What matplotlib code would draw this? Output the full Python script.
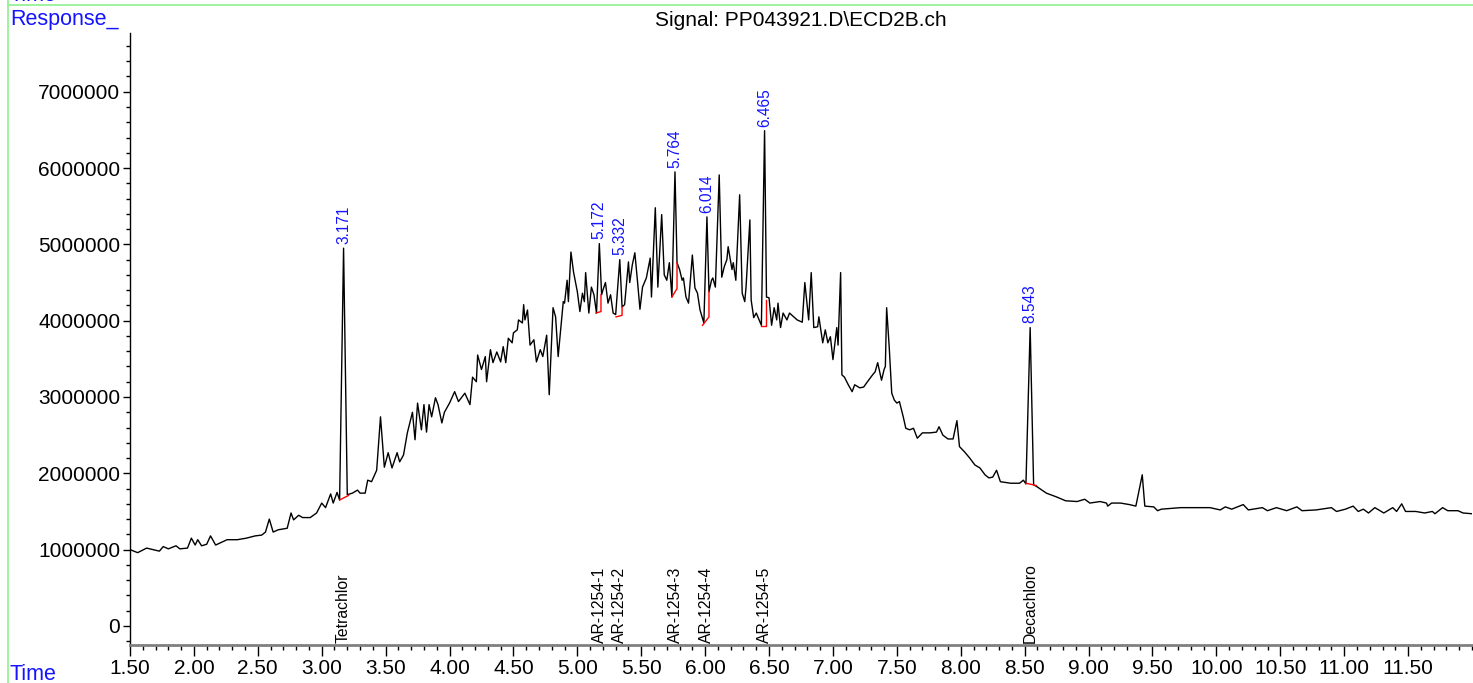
import matplotlib

matplotlib.use("Agg")
import matplotlib.pyplot as plt
import numpy as np
from matplotlib.lines import Line2D
from matplotlib.ticker import FixedLocator, MultipleLocator

plt.rcParams["font.family"] = ["Liberation Sans", "DejaVu Sans"]

# cromatograma: tiempo (min) y respuesta (millones)
times = [
    1.50, 1.56, 1.63, 1.73, 1.76, 1.80, 1.86, 1.89, 1.95, 1.98, 2.01, 2.03, 2.06, 2.10, 2.13, 2.17,
    2.26, 2.34, 2.41, 2.48, 2.53, 2.56, 2.59, 2.62, 2.66, 2.73, 2.76, 2.78, 2.82, 2.85, 2.91, 2.96,
    3.00, 3.03, 3.07, 3.09, 3.12, 3.14, 3.171, 3.20, 3.24, 3.28, 3.30, 3.34, 3.36, 3.39, 3.43, 3.46,
    3.49, 3.52, 3.55, 3.59, 3.61, 3.64, 3.67, 3.71, 3.73, 3.75, 3.78, 3.80, 3.82, 3.84, 3.86, 3.89,
    3.91, 3.94, 3.96, 4.00,
    4.04, 4.07, 4.12, 4.16, 4.18, 4.21, 4.22, 4.25, 4.28, 4.29, 4.32, 4.34, 4.37, 4.40, 4.42, 4.44,
    4.46, 4.49, 4.50, 4.53, 4.54, 4.57, 4.58, 4.59, 4.61, 4.63, 4.66, 4.68, 4.71, 4.73, 4.76, 4.78,
    4.81, 4.83, 4.85, 4.89, 4.90, 4.92, 4.93, 4.95, 4.97, 5.00, 5.02, 5.04, 5.055, 5.065, 5.09, 5.11,
    5.13, 5.15, 5.172, 5.19, 5.20, 5.22, 5.24, 5.26, 5.28, 5.30, 5.332, 5.35, 5.37, 5.40, 5.41, 5.43,
    5.45, 5.47, 5.49, 5.51, 5.54, 5.57, 5.58, 5.61, 5.63, 5.66, 5.68, 5.70, 5.72, 5.74, 5.764, 5.78,
    5.80, 5.82, 5.83, 5.85, 5.87, 5.90, 5.92, 5.94, 5.96, 5.99, 6.014, 6.03, 6.05, 6.06, 6.08, 6.11,
    6.13, 6.15, 6.17, 6.18, 6.21, 6.22, 6.24, 6.27, 6.29, 6.31, 6.32, 6.35, 6.36, 6.38, 6.40, 6.44,
    6.465, 6.48, 6.50, 6.52, 6.54, 6.56, 6.57, 6.59, 6.61, 6.64, 6.66, 6.70,
    6.72, 6.76, 6.78, 6.81, 6.83, 6.85, 6.88, 6.89, 6.92, 6.94, 6.96, 6.98, 7.00, 7.03, 7.04, 7.06,
    7.07, 7.09, 7.12, 7.15, 7.17, 7.21, 7.24, 7.27, 7.31, 7.33, 7.35, 7.38, 7.40, 7.41, 7.42, 7.44,
    7.46, 7.48, 7.50, 7.52, 7.55, 7.57, 7.60, 7.63, 7.66, 7.70, 7.76, 7.81, 7.83, 7.86, 7.90, 7.94,
    7.97, 7.99, 8.03, 8.07, 8.11, 8.15, 8.19, 8.22, 8.25, 8.28, 8.31, 8.39, 8.46, 8.49, 8.51, 8.543,
    8.57, 8.60, 8.67, 8.75, 8.82, 8.91, 8.97, 9.01,
    9.09, 9.14, 9.15, 9.18, 9.25, 9.32, 9.37, 9.42, 9.44, 9.51, 9.54, 9.57, 9.72, 9.79, 9.95, 10.03,
    10.07, 10.12, 10.21, 10.25, 10.36, 10.40, 10.47, 10.55, 10.63, 10.67, 10.78, 10.90, 10.94, 11.01,
    11.07, 11.11, 11.15, 11.19, 11.24, 11.31, 11.38, 11.41, 11.45, 11.48, 11.56, 11.63, 11.69, 11.71,
    11.77, 11.81, 11.89, 11.93, 12.00,
]
resp_m = [
    1.00, 0.96, 1.02, 0.98, 1.04, 1.01, 1.05, 1.01, 1.02, 1.15, 1.06, 1.13, 1.05, 1.07, 1.18, 1.06,
    1.13, 1.13, 1.15, 1.18, 1.19, 1.23, 1.40, 1.23, 1.26, 1.28, 1.48, 1.39, 1.45, 1.42, 1.42, 1.48,
    1.61, 1.55, 1.73, 1.61, 1.75, 1.65, 4.95, 1.72, 1.74, 1.78, 1.74, 1.74, 1.91, 1.89, 2.04, 2.74,
    2.08, 2.27, 2.07, 2.27, 2.15, 2.24, 2.53, 2.80, 2.44, 2.92, 2.57, 2.90, 2.54, 2.90, 2.74, 2.99,
    2.90, 2.66, 2.80, 2.92,
    3.07, 2.94, 3.05, 2.90, 3.26, 3.20, 3.55, 3.36, 3.53, 3.20, 3.62, 3.45, 3.59, 3.46, 3.66, 3.45,
    3.77, 3.71, 3.84, 3.88, 4.01, 3.97, 4.21, 4.01, 4.14, 3.68, 3.75, 3.46, 3.62, 3.53, 3.81, 3.03,
    4.17, 4.05, 3.53, 4.25, 4.23, 4.53, 4.25, 4.90, 4.64, 4.38, 4.12, 4.36, 4.25, 4.63, 4.10, 4.44,
    4.34, 4.10, 5.01, 4.34, 4.40, 4.50, 4.23, 4.34, 4.10, 4.08, 4.80, 4.18, 4.21, 4.77, 4.50, 4.73,
    4.89, 4.53, 4.15, 4.44, 4.56, 4.82, 4.31, 5.48, 4.44, 5.39, 4.60, 4.53, 4.76, 4.31, 5.95, 4.76,
    4.67, 4.53, 4.56, 4.31, 4.23, 4.86, 4.43, 4.36, 4.14, 3.97, 5.36, 4.38, 4.53, 4.56, 4.44, 5.91,
    4.57, 4.71, 4.80, 4.97, 4.67, 4.76, 4.53, 5.65, 4.36, 4.25, 4.44, 5.32, 4.27, 4.04, 4.10, 3.94,
    6.49, 4.31, 4.30, 3.94, 4.17, 4.01, 4.23, 3.91, 4.10, 4.01, 4.10, 4.04,
    4.01, 3.98, 4.50, 4.01, 4.63, 3.91, 3.92, 4.05, 3.71, 3.88, 3.71, 3.79, 3.49, 3.91, 3.68, 4.63,
    3.29, 3.26, 3.16, 3.07, 3.16, 3.12, 3.13, 3.20, 3.29, 3.33, 3.45, 3.22, 3.36, 3.40, 4.17, 3.66,
    3.05, 2.96, 2.92, 2.94, 2.74, 2.59, 2.57, 2.59, 2.46, 2.53, 2.53, 2.54, 2.61, 2.50, 2.45, 2.45,
    2.69, 2.35, 2.28, 2.20, 2.11, 2.07, 1.98, 1.94, 1.95, 2.04, 1.89, 1.87, 1.87, 1.91, 1.86, 3.91,
    1.85, 1.82, 1.74, 1.69, 1.64, 1.63, 1.66, 1.61,
    1.63, 1.61, 1.57, 1.61, 1.61, 1.59, 1.57, 1.98, 1.57, 1.56, 1.51, 1.53, 1.55, 1.55, 1.55, 1.52,
    1.56, 1.53, 1.59, 1.52, 1.55, 1.51, 1.55, 1.51, 1.56, 1.51, 1.52, 1.55, 1.50, 1.53,
    1.57, 1.50, 1.53, 1.48, 1.55, 1.48, 1.55, 1.50, 1.60, 1.50, 1.50, 1.48, 1.50, 1.47,
    1.55, 1.51, 1.51, 1.48, 1.47,
]

# picos integrados (etiqueta azul) y compuestos asignados
peak_rt = [3.171, 5.172, 5.332, 5.764, 6.014, 6.465, 8.543]
peak_m = [4.95, 5.01, 4.80, 5.95, 5.36, 6.49, 3.91]
compounds = ["Tetrachlor", "AR-1254-1", "AR-1254-2", "AR-1254-3", "AR-1254-4", "AR-1254-5", "Decachloro"]

# lineas base de integracion (rojo)
bl_t0 = [3.14, 5.146, 5.303, 5.74, 5.98, 6.44, 8.51]
bl_r0 = [1.65, 4.10, 4.05, 4.31, 3.94, 3.93, 1.87]
bl_t1 = [3.21, 5.185, 5.35, 5.78, 6.03, 6.48, 8.59]
bl_r1 = [1.71, 4.12, 4.07, 4.42, 4.05, 3.93, 1.84]
drop_top = [1.71, 4.34, 4.18, 4.76, 4.38, 4.27, 1.84]

W, H = 1473, 683
BLUE = "#1414ff"
FS = 15

fig = plt.figure(figsize=(W / 100, H / 100), dpi=100)
ax = fig.add_axes([130 / W, 38 / H, 1342 / W, 612 / H])

t = np.array(times)
r = np.array(resp_m) * 1e6
ax.plot(t, r, color="black", lw=1.0, zorder=3)

for a, b, c, d, e in zip(bl_t0, bl_r0, bl_t1, bl_r1, drop_top):
    ax.plot([a, c, c], [b * 1e6, d * 1e6, e * 1e6], color="red", lw=1.0, zorder=4)

for rt, pm in zip(peak_rt, peak_m):
    ax.annotate(f"{rt:.3f}", (rt, pm * 1e6), xytext=(0, 3), textcoords="offset points",
                rotation=90, ha="center", va="bottom", color=BLUE, fontsize=11.2)

for rt, name in zip(peak_rt, compounds):
    ax.text(rt, 0.004, name, transform=ax.get_xaxis_transform(), rotation=90,
            ha="center", va="bottom", fontsize=11.3, color="black")

ax.set_xlim(1.5, 12.0)
ax.set_ylim(-0.25e6, 7.77e6)

xt = np.arange(1.5, 11.51, 0.5)
ax.xaxis.set_major_locator(FixedLocator(xt))
ax.set_xticklabels([f"{v:.2f}" for v in xt])
ax.xaxis.set_minor_locator(MultipleLocator(0.1))
yt = np.arange(0, 7.1e6, 1e6)
ax.yaxis.set_major_locator(FixedLocator(yt))
ax.set_yticklabels([f"{int(v)}" for v in yt])
ax.yaxis.set_minor_locator(MultipleLocator(2e5))

ax.tick_params(axis="x", which="major", direction="out", length=8, width=1, labelsize=FS, pad=2)
ax.tick_params(axis="x", which="minor", direction="out", length=3.5, width=1)
ax.tick_params(axis="y", which="major", direction="out", length=5, width=1, labelsize=FS, pad=2)
ax.tick_params(axis="y", which="minor", direction="out", length=3, width=1)

for s in ("top", "right"):
    ax.spines[s].set_visible(False)
ax.spines["left"].set_color("black")
ax.spines["left"].set_linewidth(1.0)
ax.spines["bottom"].set_color("#808080")
ax.spines["bottom"].set_linewidth(2.0)

# marco verde y textos de cabecera
GREEN = "#8cf08c"
fig.add_artist(Line2D([8 / W, 1.0], [1 - 5 / H, 1 - 5 / H], color=GREEN, lw=1.2, transform=fig.transFigure))
fig.add_artist(Line2D([8 / W, 8 / W], [0.0, 1.0], color=GREEN, lw=1.2, transform=fig.transFigure))
fig.text(10 / W, 1 + 4 / H, "Time", color=BLUE, fontsize=15.5, ha="left", va="center")
fig.text(10 / W, 1 - 19 / H, "Response_", color=BLUE, fontsize=15.5, ha="left", va="center")
fig.text(10 / W, 9 / H, "Time", color=BLUE, fontsize=15.5, ha="left", va="center")
fig.text(801 / W, 1 - 20 / H, r"Signal: PP043921.D\ECD2B.ch", ha="center", va="center", fontsize=FS)

fig.savefig("out.png", dpi=100)
plt.close(fig)
